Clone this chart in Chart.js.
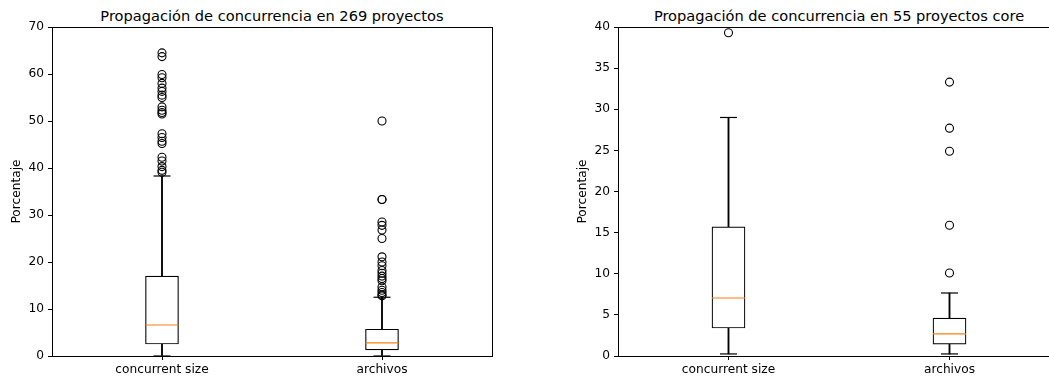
<!DOCTYPE html>
<html>
<head>
<meta charset="utf-8">
<script src="https://cdn.jsdelivr.net/npm/chart.js@4.4.1/dist/chart.umd.min.js"></script>
<style>
    body { margin: 0; width: 1049px; height: 379px; overflow: hidden; background: #fff; position: relative; font-family: "DejaVu Sans", sans-serif; }
    .panel { position: absolute; top: 0; }
    .title { position: absolute; top: 7px; font-size: 14.6px; line-height: 17px; text-align: center; color: #000; white-space: nowrap; }
</style>
</head>
<body>
<div class="title" style="left:52px;width:440px;">Propagación de concurrencia en 269 proyectos</div>
<div class="title" style="left:618px;width:442px;">Propagación de concurrencia en 55 proyectos core</div>
<canvas id="chartAll" class="panel" style="left:0;" width="500" height="379"></canvas>
<canvas id="chartCore" class="panel" style="left:566px;" width="506" height="379"></canvas>
<script>
// Categories
const categories = ['concurrent size', 'archivos'];

// 269 proyectos: box stats per category [concurrent size, archivos]
const allQ1 = [2.55, 1.3];
const allMedian = [6.6, 2.8];
const allQ3 = [17.0, 5.7];
const allLowWhisker = [0, 0];
const allHighWhisker = [38.3, 12.5];
const allOutliersConcurrent = [64.5, 63.7, 59.9, 59.2, 58.0, 57.0, 56.3, 55.5, 55.0, 53.0, 52.3, 51.8, 51.5,
    47.3, 46.5, 45.7, 45.2, 42.3, 41.5, 40.3, 39.5, 39.1];
const allOutliersArchivos = [50.0, 33.3, 33.3, 28.5, 27.8, 26.8, 25.0, 21.1, 20.0, 19.2, 18.2, 17.6, 17.0,
    16.5, 16.0, 14.7, 14.0, 13.5, 13.0, 12.8];
const allTicks = [0, 10, 20, 30, 40, 50, 60, 70];

// 55 proyectos core
const coreQ1 = [3.4, 1.45];
const coreMedian = [7.05, 2.7];
const coreQ3 = [15.7, 4.6];
const coreLowWhisker = [0.25, 0.25];
const coreHighWhisker = [29.0, 7.66];
const coreOutliersConcurrent = [39.3];
const coreOutliersArchivos = [33.3, 27.7, 24.9, 15.9, 10.1];
const coreTicks = [0, 5, 10, 15, 20, 25, 30, 35, 40];

const fontSpec = { family: "'DejaVu Sans', sans-serif", size: 12.2 };

// draws the four spines around the plot area
const framePlugin = {
    id: 'frame',
    afterDatasetsDraw(chart) {
        const a = chart.chartArea;
        const ctx = chart.ctx;
        ctx.save();
        ctx.strokeStyle = '#000';
        ctx.lineWidth = 1;
        ctx.strokeRect(Math.round(a.left) + 0.5, Math.round(a.top) + 0.5,
            Math.round(a.right - a.left), Math.round(a.bottom - a.top));
        ctx.restore();
    }
};

function buildBoxplot(canvasId, q1, med, q3, lo, hi, outConc, outArch, ticks, padRight) {
    const ctx = document.getElementById(canvasId).getContext('2d');
    const outliers = outConc.map(v => ({ x: categories[0], y: v }))
        .concat(outArch.map(v => ({ x: categories[1], y: v })));
    const caps = categories.map((c, i) => ({ x: c, y: lo[i] }))
        .concat(categories.map((c, i) => ({ x: c, y: hi[i] })));

    return new Chart(ctx, {
        type: 'bar',
        data: {
            labels: categories,
            datasets: [
                {
                    type: 'line',
                    data: outliers,
                    showLine: false,
                    pointStyle: 'circle',
                    pointRadius: 4,
                    pointBackgroundColor: 'rgba(255,255,255,0)',
                    pointBorderColor: '#000',
                    pointBorderWidth: 1.1,
                    clip: false,
                    order: 0
                },
                {
                    type: 'line',
                    data: categories.map((c, i) => ({ x: c, y: med[i] })),
                    showLine: false,
                    pointStyle: 'line',
                    pointRadius: 16.5,
                    pointBorderColor: '#ff7f0e',
                    pointBorderWidth: 1.2,
                    clip: false,
                    order: 1
                },
                {
                    type: 'line',
                    data: caps,
                    showLine: false,
                    pointStyle: 'line',
                    pointRadius: 8.5,
                    pointBorderColor: '#000',
                    pointBorderWidth: 1.2,
                    clip: false,
                    order: 2
                },
                {
                    data: categories.map((c, i) => [q1[i], q3[i]]),
                    backgroundColor: '#fff',
                    borderColor: '#000',
                    borderWidth: 1.2,
                    borderSkipped: false,
                    barThickness: 33,
                    grouped: false,
                    order: 3
                },
                {
                    data: categories.map((c, i) => [lo[i], q1[i]]),
                    backgroundColor: '#000',
                    borderWidth: 0,
                    barThickness: 1.2,
                    grouped: false,
                    order: 4
                },
                {
                    data: categories.map((c, i) => [q3[i], hi[i]]),
                    backgroundColor: '#000',
                    borderWidth: 0,
                    barThickness: 1.2,
                    grouped: false,
                    order: 4
                }
            ]
        },
        options: {
            responsive: false,
            animation: false,
            events: [],
            layout: { autoPadding: false, padding: { top: 27, right: padRight, left: 0, bottom: 0 } },
            plugins: {
                legend: { display: false },
                tooltip: { enabled: false },
                title: { display: false }
            },
            scales: {
                x: {
                    type: 'category',
                    offset: true,
                    grid: { offset: false, drawOnChartArea: false, drawTicks: true, tickLength: 4, color: '#000' },
                    border: { display: false },
                    ticks: { color: '#000', font: fontSpec, padding: 3, maxRotation: 0 },
                    afterFit: s => { s.height = 23; }
                },
                y: {
                    min: ticks[0],
                    max: ticks[ticks.length - 1],
                    afterBuildTicks: s => { s.ticks = ticks.map(v => ({ value: v })); },
                    grid: { drawOnChartArea: false, drawTicks: true, tickLength: 4, color: '#000' },
                    border: { display: false },
                    ticks: { color: '#000', font: fontSpec, padding: 4 },
                    title: {
                        display: true,
                        text: 'Porcentaje',
                        color: '#000',
                        font: fontSpec,
                        padding: { top: 10, bottom: 0 }
                    },
                    afterFit: s => { s.width = 52; }
                }
            }
        },
        plugins: [framePlugin]
    });
}

buildBoxplot('chartAll', allQ1, allMedian, allQ3, allLowWhisker, allHighWhisker,
    allOutliersConcurrent, allOutliersArchivos, allTicks, 8);
buildBoxplot('chartCore', coreQ1, coreMedian, coreQ3, coreLowWhisker, coreHighWhisker,
    coreOutliersConcurrent, coreOutliersArchivos, coreTicks, 12);
</script>
</body>
</html>
